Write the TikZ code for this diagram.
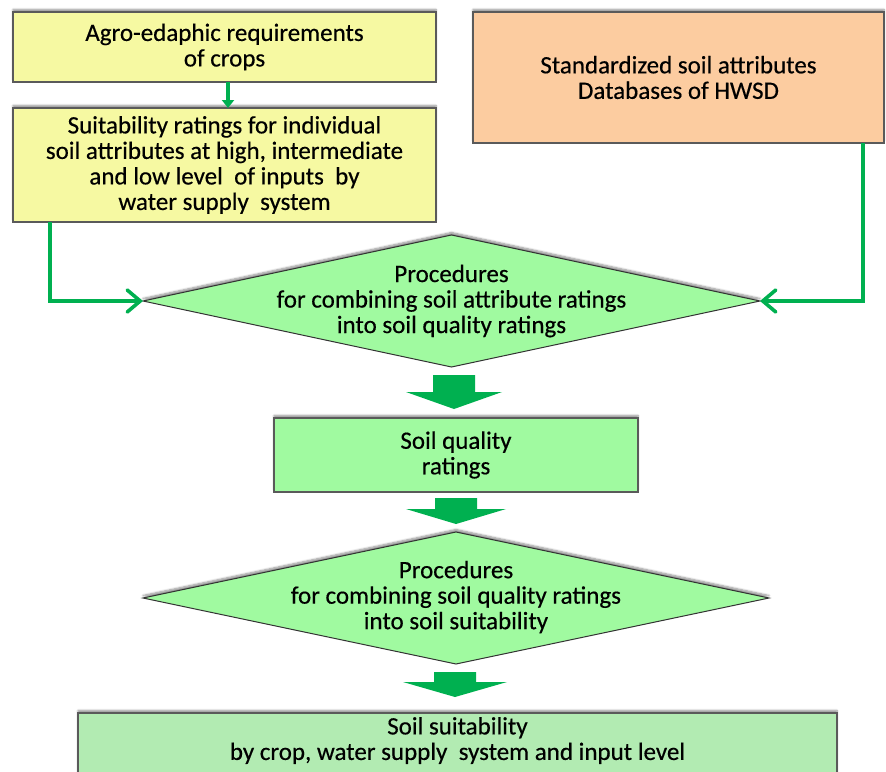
\documentclass[tikz,border=0pt]{standalone}
\usepackage{fontspec}
\setmainfont{Carlito}[FakeBold=0.4]
\usepackage{tikz}
\usetikzlibrary{calc, shapes, shapes.geometric, arrows.meta, shadows.blur}

\definecolor{cropyellow}{RGB}{246,249,162}
\definecolor{hwsdpeach}{RGB}{252,204,160}
\definecolor{procgreen}{RGB}{160,250,160}
\definecolor{finalgreen}{RGB}{178,235,178}
\definecolor{arrowgreen}{RGB}{0,176,80}
\definecolor{boxgray}{RGB}{90,90,90}

\tikzset{
  pics/blockarrow/.style n args={3}{code={
    \fill[arrowgreen] (-21,0) -- (21,0) -- (21,#1) -- (#3,#1) -- (0,#2) -- (-#3,#1) -- (-21,#1) -- cycle;
  }}
}

\begin{document}
\begin{tikzpicture}[x=1pt, y=-1pt, font=\fontsize{25}{25.5}\selectfont,
    box/.style={draw=boxgray, line width=1.3pt, rectangle, align=center, inner sep=0pt, outer sep=0pt,
      blur shadow={shadow xshift=0pt, shadow yshift=2.5pt, shadow blur steps=6, shadow opacity=45}},
    decision/.style={draw=black!80, line width=1pt, diamond, fill=procgreen, inner sep=0pt, outer sep=0pt,
      blur shadow={shadow xshift=0pt, shadow yshift=2.5pt, shadow blur steps=6, shadow opacity=45}},
    flow/.style={draw=arrowgreen, line width=3.6pt},
    lbl/.style={align=center, inner sep=0pt}]
    \useasboundingbox (0,0) rectangle (886,771);
    \clip (0,0) rectangle (886,771);

    \coordinate (I) at (224.5,47);
    \coordinate (II) at (224.5,165);
    \coordinate (H) at (678.5,77.5);
    \coordinate (P) at (451.5,301);
    \coordinate (Q) at (456,455);
    \coordinate (R) at (456,598);
    \coordinate (S) at (457.5,745);

    \node[box, fill=cropyellow, minimum width=423pt, minimum height=70pt] (crops) at (I)
      {Agro-edaphic requirements\\of crops};
    \node[box, fill=cropyellow, minimum width=423pt, minimum height=114pt] (ratings) at (II)
      {Suitability ratings for individual\\soil attributes at high, intermediate\\and low level\ \ of inputs\ \ by\\water supply\ \ system};
    \node[box, fill=hwsdpeach, minimum width=411pt, minimum height=131pt] (hwsd) at (H)
      {Standardized soil attributes\\Databases of HWSD};

    \node[decision, minimum width=617pt, minimum height=132pt,
      label={[lbl]center:Procedures\\for combining soil attribute ratings\\into soil quality ratings}] (combine) at (P) {};
    \node[box, fill=procgreen, minimum width=364pt, minimum height=74pt] (quality) at (Q)
      {Soil quality\\ratings};
    \node[decision, minimum width=626pt, minimum height=132pt,
      label={[lbl, yshift=1pt]center:Procedures\\for combining soil quality ratings\\into soil suitability}] (suit) at (R) {};
    \node[box, fill=finalgreen, minimum width=759pt, minimum height=64pt,
      label={[lbl, yshift=4.5pt]center:Soil suitability\\by crop, water supply\ \ system and input level}] (final) at (S) {};

    \draw[flow, -{Triangle[length=8pt,width=12pt]}] ($(crops.south)+(3.5,0)$) -- ($(ratings.north)+(3.5,0)$);
    \draw[flow, -{Straight Barb[length=13pt,width=22pt,line cap=round]}] ($(ratings.south west)+(37,0)$) |- (combine.west);
    \draw[flow, -{Straight Barb[length=13pt,width=22pt,line cap=round]}] ($(hwsd.south east)+(-21,0)$) |- (combine.east);

    \pic at ($(combine.south)+(2.5,8)$) {blockarrow={17}{34}{48}};
    \pic at ($(quality.south)+(0,6)$) {blockarrow={11}{26}{50}};
    \pic at ($(suit.south)+(-1,8)$) {blockarrow={10}{25}{52}};
  \end{tikzpicture}
\end{document}
